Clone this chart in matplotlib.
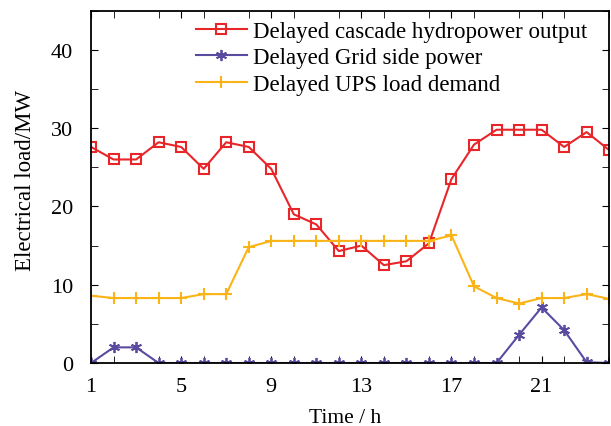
import matplotlib.pyplot as plt
from matplotlib.ticker import MultipleLocator

plt.rcParams['font.family'] = ['Liberation Serif', 'DejaVu Serif']

# Horas do dia
horas = list(range(1, 25))

# Potência da cascata hidrelétrica (MW)
hidro = [27.6, 26.0, 26.0, 28.2, 27.6, 24.8, 28.2, 27.6, 24.8, 19.0, 17.7, 14.3,
         15.0, 12.5, 13.0, 15.3, 23.5, 27.9, 29.8, 29.8, 29.8, 27.6, 29.5, 27.2]
# Potência do lado da rede (MW)
rede = [0.0, 2.0, 2.0, 0.0, 0.0, 0.0, 0.0, 0.0, 0.0, 0.0, 0.0, 0.0,
        0.0, 0.0, 0.0, 0.0, 0.0, 0.0, 0.0, 3.6, 7.1, 4.2, 0.1, 0.0]
# Demanda de carga UPS (MW)
ups = [8.6, 8.3, 8.3, 8.3, 8.3, 8.8, 8.8, 14.8, 15.6, 15.6, 15.6, 15.6,
       15.6, 15.6, 15.6, 15.6, 16.3, 9.8, 8.3, 7.6, 8.3, 8.3, 8.8, 8.2]

rotulos = ["Delayed cascade hydropower output", "Delayed Grid side power",
           "Delayed UPS load demand"]

fig = plt.figure(figsize=(6.11, 4.27), dpi=100)
ax = fig.add_axes([0.149, 0.1475, 0.848, 0.825])

ax.plot(horas, hidro, color="#e8262a", marker="s", markersize=6.5, markerfacecolor="none",
        markeredgewidth=1.5, linewidth=1.5, label=rotulos[0])
ax.plot(horas, rede, color="#5b4ba0", marker=(6, 2, 0), markersize=8, markeredgewidth=1.3,
        linewidth=1.5, label=rotulos[1])
ax.plot(horas, ups, color="#fbb417", marker="+", markersize=9, markeredgewidth=1.5,
        linewidth=1.5, label=rotulos[2])

ax.set_xlim(1, 24)
ax.set_ylim(0, 45)
ax.set_xticks([1, 5, 9, 13, 17, 21])
ax.xaxis.set_minor_locator(MultipleLocator(2))
ax.set_yticks([0, 10, 20, 30, 40])
ax.yaxis.set_minor_locator(MultipleLocator(5))
ax.tick_params(which="both", direction="in", top=True, right=True, labelsize=16, length=5)
ax.tick_params(axis="x", pad=10)
ax.tick_params(axis="y", pad=13)
for s in ax.spines.values():
    s.set_linewidth(1.3)

ax.set_xlabel("Time / h", fontsize=15.5)
ax.set_ylabel("Electrical load/MW", fontsize=16.5)
ax.xaxis.set_label_coords(0.49, -0.128)
ax.yaxis.set_label_coords(-0.106, 0.52)
ax.legend(loc="upper left", bbox_to_anchor=(0.203, 0.972), frameon=False, fontsize=16.5,
          borderpad=0, borderaxespad=0, handlelength=2.2, handletextpad=0.27,
          labelspacing=0.25)

plt.savefig("out.png")
